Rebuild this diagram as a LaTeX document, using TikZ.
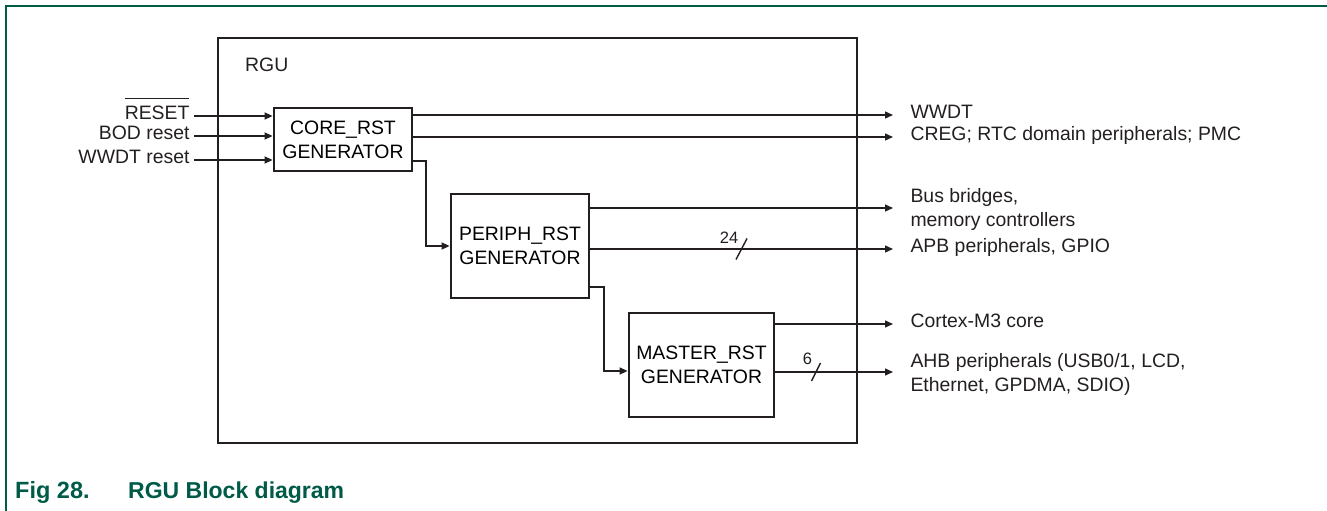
\documentclass[tikz,border=0pt]{standalone}
\usepackage{fontspec}
\setmainfont{Liberation Sans}
\usepackage{xcolor}
\usepackage{tikz}
\usetikzlibrary{arrows.meta,positioning,calc}

\definecolor{nxpgreen}{HTML}{005A48}
\definecolor{ink}{HTML}{231F20}

% overbar for active-low signal names
\newcommand{\actlow}[1]{\leavevmode\vbox{\hrule height 1.1pt\kern 7pt\hbox{#1}}}

\tikzset{
  blk/.style={draw=ink, line width=2.8pt, align=center, inner sep=0pt,
    font=\fontsize{19.4}{24}\selectfont},
  lbl/.style={text=ink, font=\fontsize{19.4}{24}\selectfont,
    text height=0.72em, text depth=0pt},
  lblml/.style={text=ink, align=left, font=\fontsize{19.4}{24}\selectfont},
  sig/.style={-{Triangle[length=8pt,width=7pt]}, draw=ink, line width=1.4pt},
  wire/.style={draw=ink, line width=1.4pt},
  buswd/.style={text=ink, font=\fontsize{16.5}{19}\selectfont, inner sep=0pt},
}

\begin{document}
\begin{tikzpicture}[x=1pt, y=-1pt]
  \useasboundingbox (0,0) rectangle (1327,511);

  % ── Page frame ────────────────────────────────────────────
  \draw[nxpgreen, line width=2.4pt] (6,511) -- (6,6) -- (1327,6);

  % ── RGU block and generators ──────────────────────────────
  \node[blk, minimum width=639pt, minimum height=405pt] (rgu) at (537.5,240.5) {};
  \node[lbl, anchor=west, inner sep=0pt] (rgulbl) at (245,68) {RGU};

  \node[blk, minimum width=138pt, minimum height=63pt] (core) at (343,139.5)
    {CORE\_RST\\GENERATOR};
  \node[blk, minimum width=138pt, minimum height=104pt] (periph) at (520,246)
    {PERIPH\_RST\\GENERATOR};
  \node[blk, minimum width=145pt, minimum height=104pt] (master) at (701.5,365)
    {MASTER\_RST\\GENERATOR};

  % ── Reset inputs ──────────────────────────────────────────
  \coordinate (in1) at (194,116);
  \coordinate (in2) at (194,136);
  \coordinate (in3) at (194,160);
  \node[lbl, left=1pt of in1] (lreset) {\actlow{RESET}};
  \node[lbl, left=1pt of in2] (lbod) {BOD reset};
  \node[lbl, left=1pt of in3] (lwwdtr) {WWDT reset};
  \draw[sig] (in1) -- (in1 -| core.west);
  \draw[sig] (in2) -- (in2 -| core.west);
  \draw[sig] (in3) -- (in3 -| core.west);

  % ── Outputs ───────────────────────────────────────────────
  \coordinate (o1) at (893,115);
  \coordinate (o2) at (893,137);
  \coordinate (o3) at (893,208);
  \coordinate (o4) at (893,249);
  \coordinate (o5) at (893,324);
  \coordinate (o6) at (893,372);
  \draw[sig] (core.east |- o1) -- (o1);
  \draw[sig] (core.east |- o2) -- (o2);
  \draw[sig] (periph.east |- o3) -- (o3);
  \draw[sig] (periph.east |- o4) -- (o4);
  \draw[sig] (master.east |- o5) -- (o5);
  \draw[sig] (master.east |- o6) -- (o6);

  \node[lbl, right=14pt of o1] (lwwdt) {WWDT};
  \node[lbl, right=14pt of o2] (lcreg) {CREG; RTC domain peripherals; PMC};
  \node[lblml, right=14pt of o3, yshift=-1pt] (lbus) {Bus bridges,\\memory controllers};
  \node[lbl, right=14pt of o4] (lapb) {APB peripherals, GPIO};
  \node[lbl, right=14pt of o5] (lcm3) {Cortex-M3 core};
  \node[lblml, right=14pt of o6, yshift=-2pt] (lahb)
    {AHB peripherals (USB0/1, LCD,\\Ethernet, GPDMA, SDIO)};

  % bus width marks
  \coordinate (s24) at (741.5,249);
  \coordinate (s6) at (816,372);
  \draw[wire] (s24) ++(5.5,-10.5) -- ++(-11,21);
  \draw[wire] (s6) ++(4.5,-9) -- ++(-9,18);
  \node[buswd] (n24) at (729,237.5) {24};
  \node[buswd] (n6) at (807.5,359) {6};

  % ── Cascade between generators ────────────────────────────
  \coordinate (k1) at (426,161);
  \coordinate (k2) at (604,287);
  \draw[sig] (core.east |- k1) -- (k1) |- (periph.west);
  \draw[sig] (periph.east |- k2) -- (k2) |- ([yshift=-6pt]master.west);

  % ── Caption ───────────────────────────────────────────────
  \node[anchor=base west, inner sep=0pt, text=nxpgreen,
        font=\fontsize{23.5}{28}\selectfont\bfseries] (figno) at (15,498) {Fig 28.};
  \node[anchor=base west, inner sep=0pt, text=nxpgreen,
        font=\fontsize{23}{28}\selectfont\bfseries] (figttl) at (128,498)
    {RGU Block diagram};
\end{tikzpicture}
\end{document}
